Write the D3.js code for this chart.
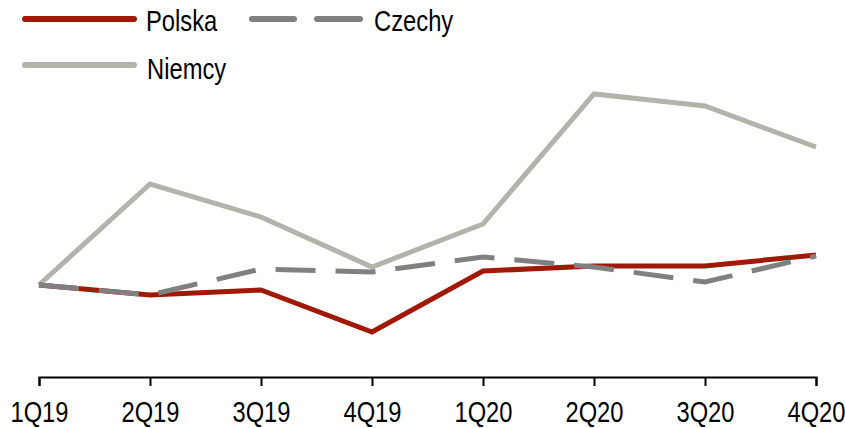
<!DOCTYPE html>
<html>
<head>
<meta charset="utf-8">
<script src="https://cdn.jsdelivr.net/npm/d3@7"></script>
<style>
  body { margin: 0; background: #fff; }
  svg text { font-family: "Liberation Sans", Arial, sans-serif; fill: #000; }
</style>
</head>
<body>
<svg id="chart"></svg>
<script>
const width = 845;
const height = 428;

// quarters on the x axis
const quarters = ['1Q19', '2Q19', '3Q19', '4Q19', '1Q20', '2Q20', '3Q20', '4Q20'];

// index values (1Q19 = 100)
const polska = [100, 99.0, 99.5, 95.3, 101.4, 101.9, 101.9, 103.0];
const czechy = [100, 99.0, 101.6, 101.3, 102.8, 101.8, 100.3, 102.9];
const niemcy = [100, 110.1, 106.8, 101.8, 106.1, 119.1, 117.9, 113.8];

const seriesNames = ['Polska', 'Czechy', 'Niemcy'];
const seriesColors = ['#a01806', '#808080', '#b3b3ae'];

// the original uses a narrow face; squeeze Liberation Sans horizontally
const narrow = 0.8;

const svg = d3.select('#chart')
    .attr('width', width)
    .attr('height', height);

const xScale = d3.scalePoint().domain(quarters).range([39, 816]);
const yScale = d3.scaleLinear().domain([90.8, 120]).range([377, 85]);

const line = d3.line()
    .x((d, i) => xScale(quarters[i]))
    .y(d => yScale(d));

// draw back to front: Niemcy, Polska, then dashed Czechy on top
const series = [
    { name: 'Niemcy', values: niemcy, color: seriesColors[2], dash: null },
    { name: 'Polska', values: polska, color: seriesColors[0], dash: null },
    { name: 'Czechy', values: czechy, color: seriesColors[1], dash: '40,20' },
];

svg.append('g')
    .selectAll('path')
    .data(series)
    .join('path')
    .attr('d', d => line(d.values))
    .attr('fill', 'none')
    .attr('stroke', d => d.color)
    .attr('stroke-width', 5)
    .attr('stroke-dasharray', d => d.dash);

// x axis
const xAxis = svg.append('g')
    .attr('transform', 'translate(0,377)')
    .call(d3.axisBottom(xScale).tickSizeOuter(0).tickSize(9));
xAxis.select('.domain').attr('stroke', '#000').attr('stroke-width', 2);
xAxis.selectAll('.tick line').attr('stroke', '#000').attr('stroke-width', 2);
xAxis.selectAll('.tick text')
    .attr('y', null)
    .attr('dy', null)
    .attr('transform', `translate(0,44.5) scale(${narrow - 0.01},1)`)
    .attr('font-size', 30)
    .attr('font-family', '"Liberation Sans", Arial, sans-serif')
    .attr('fill', '#000');

// legend
const legend = svg.append('g');

function legendLine(x1, x2, y, color) {
    legend.append('line')
        .attr('x1', x1).attr('x2', x2)
        .attr('y1', y).attr('y2', y)
        .attr('stroke', color)
        .attr('stroke-width', 6)
        .attr('stroke-linecap', 'round');
}

function legendText(x, y, label) {
    legend.append('text')
        .attr('transform', `translate(${x},${y}) scale(${narrow + 0.02},1)`)
        .attr('font-size', 29)
        .text(label);
}

legendLine(25, 134, 19, seriesColors[0]);
legendText(146, 31, seriesNames[0]);

legendLine(252, 294, 19, seriesColors[1]);
legendLine(317, 360, 19, seriesColors[1]);
legendText(374, 31, seriesNames[1]);

legendLine(25, 134, 65, seriesColors[2]);
legendText(147, 79, seriesNames[2]);
</script>
</body>
</html>
